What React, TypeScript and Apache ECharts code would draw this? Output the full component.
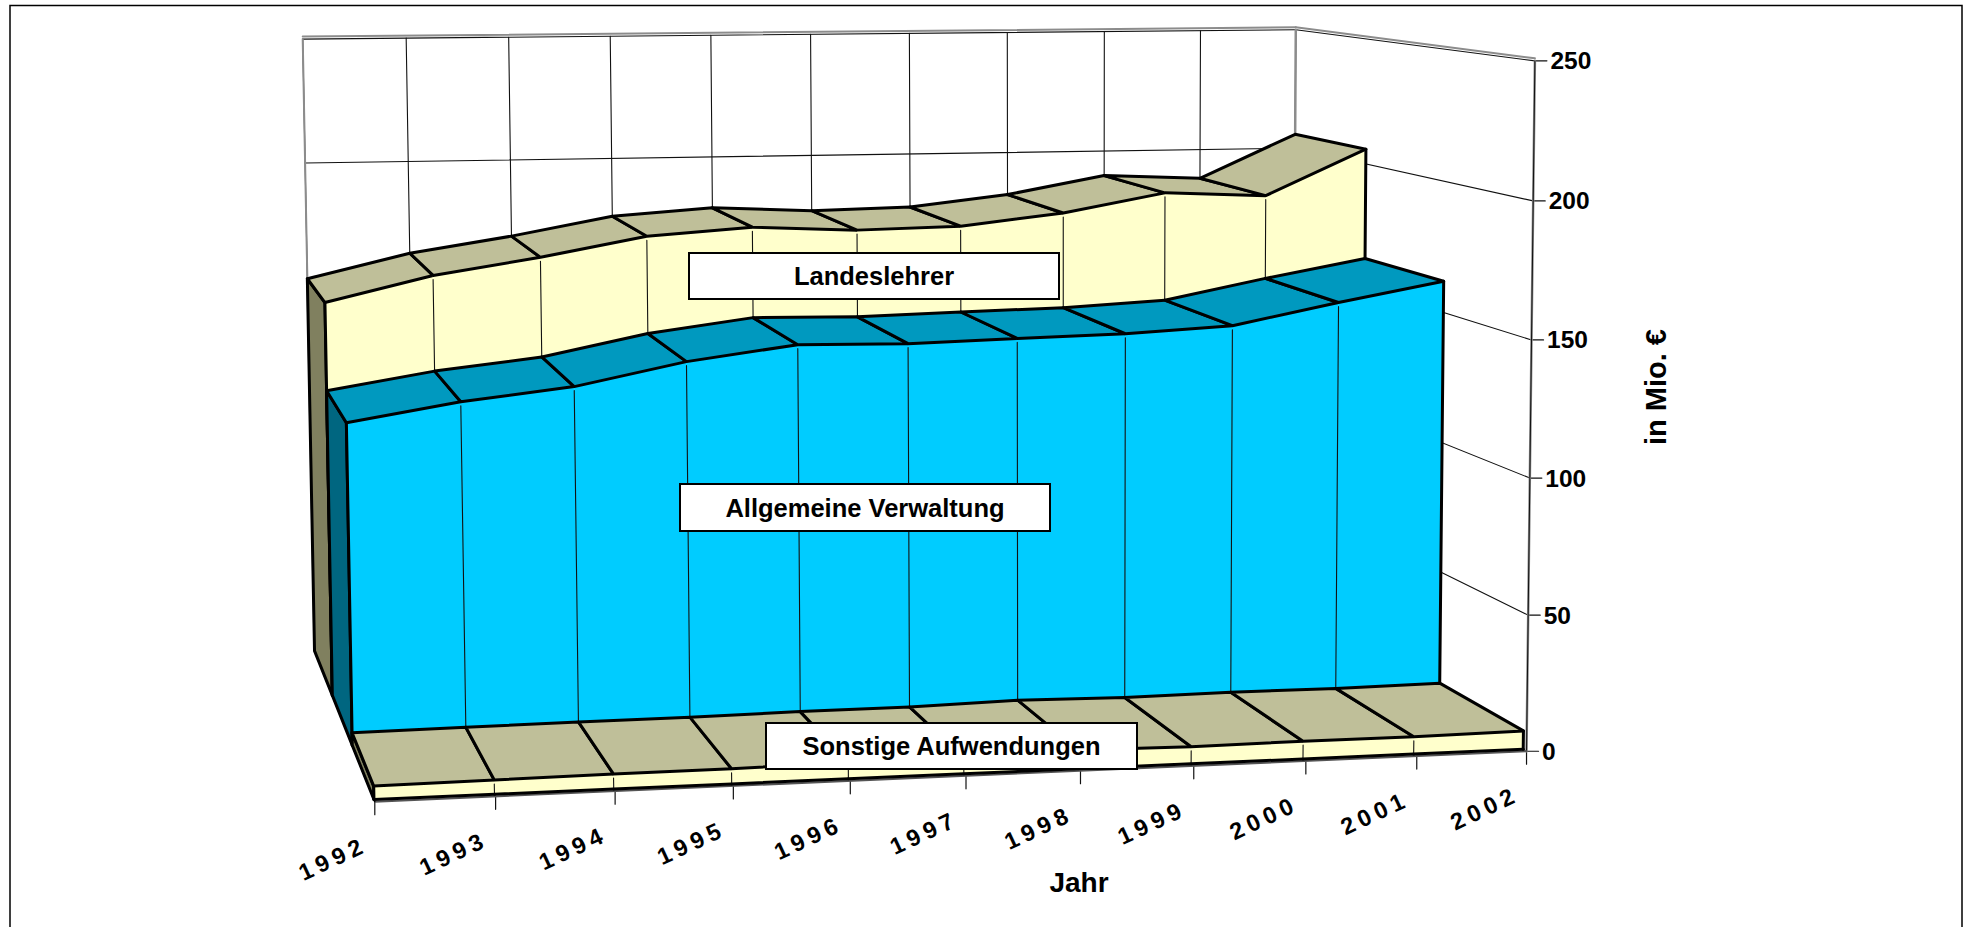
import React, { useEffect, useRef } from "react";
import * as echarts from "echarts";

const years = ["1992","1993","1994","1995","1996","1997","1998","1999","2000","2001","2002"];
const valueTicks = [0, 50, 100, 150, 200, 250];
const sonstige = [4.7, 5.0, 5.3, 5.4, 5.8, 5.9, 6.8, 6.2, 6.5, 6.4, 6.8];
const verwaltung = [118.9, 125.5, 130, 138.2, 143.5, 142.9, 143.9, 144.7, 146.8, 154.7, 161.9];
const landeslehrer = [153, 162.6, 168.8, 176.2, 179, 177.1, 177.9, 182.4, 189.7, 187.9, 205.9];
const VMAX = 250;

// Calibration of the perspective: box coordinates (u, v, d) -> picture pixels
const calib: number[][] = [
  [0, 0, 0, 375, 803], [1, 0, 0, 1524, 750], [1, 1, 0, 1538, 60], [0, 1, 1, 303, 38],
  [0, 0, 1, 313, 650], [1, 1, 1, 1293, 30], [1, 0, 1, 1296, 615],
  [0.5, 0, 0, 966, 775.7], [0.5, 1, 1, 809, 34], [1, 0.6, 0, 1532, 341], [1, 0.2, 0, 1527, 615],
  [1, 0.8, 1, 1295, 149], [0, 0.8, 1, 307, 164],
];

function solveProjection(pts: number[][]) {
  const rows: number[][] = [];
  const rhs: number[] = [];
  for (const [u, v, d, px, py] of pts) {
    const x = px / 1000, y = py / 1000;
    rows.push([u, v, d, 1, 0, 0, 0, 0, -x * u, -x * v, -x * d]); rhs.push(x);
    rows.push([0, 0, 0, 0, u, v, d, 1, -y * u, -y * v, -y * d]); rhs.push(y);
  }
  const n = 11;
  const M: number[][] = [];
  for (let i = 0; i < n; i++) {
    const r = new Array(n + 1).fill(0);
    for (let j = 0; j < n; j++) rows.forEach((row) => { r[j] += row[i] * row[j]; });
    rows.forEach((row, k) => { r[n] += row[i] * rhs[k]; });
    M.push(r);
  }
  for (let c = 0; c < n; c++) {
    let p = c;
    for (let r = c + 1; r < n; r++) if (Math.abs(M[r][c]) > Math.abs(M[p][c])) p = r;
    [M[c], M[p]] = [M[p], M[c]];
    for (let r = 0; r < n; r++) {
      if (r === c) continue;
      const f = M[r][c] / M[c][c];
      for (let j = c; j <= n; j++) M[r][j] -= f * M[c][j];
    }
  }
  return M.map((r, i) => r[n] / r[i]);
}
const P = solveProjection(calib);
function proj(u: number, v: number, d: number): number[] {
  const w = P[8] * u + P[9] * v + P[10] * d + 1;
  return [
    (1000 * (P[0] * u + P[1] * v + P[2] * d + P[3])) / w,
    (1000 * (P[4] * u + P[5] * v + P[6] * d + P[7])) / w,
  ];
}
const U = (i: number) => i / (years.length - 1);
const V = (val: number) => val / VMAX;

const line = (a: number[], b: number[], stroke: string, lineWidth: number) => ({
  type: "line",
  shape: { x1: a[0], y1: a[1], x2: b[0], y2: b[1] },
  style: { stroke, lineWidth, lineCap: "round" },
});
const poly = (points: number[][], fill: string, stroke: string | null, lineWidth = 3) => ({
  type: "polygon",
  shape: { points },
  style: stroke
    ? { fill, stroke, lineWidth, lineJoin: "round" }
    : { fill, stroke: fill, lineWidth: 0.6 },
});

const GREY = "#8c8c8c";
const THIN = "#111111";
const EDGE = "#000000";
const FONT = '"Liberation Sans", Arial, sans-serif';

function layer(name: string, values: number[], d1: number, d2: number, top: string, front: string, side: string, withBase: boolean) {
  return {
    type: "custom",
    name,
    coordinateSystem: "none",
    silent: true,
    clip: false,
    data: values.map((v, i) => [i, v]),
    renderItem: (_: any, api: any) => {
      const i = api.value(0);
      const val = api.value(1);
      const u = U(i), v = V(val);
      const children: any[] = [];
      const last = i === values.length - 1;
      if (i === 0) {
        children.push(poly([proj(u, v, d1), proj(u, v, d2), proj(u, 0, d2), proj(u, 0, d1)], side, EDGE));
      }
      if (!last) {
        const u2 = U(i + 1), v2 = V(values[i + 1]);
        children.push(poly([proj(u, v, d1), proj(u2, v2, d1), proj(u2, 0, d1), proj(u, 0, d1)], front, null));
      }
      const t = proj(u, v, d1);
      if (i > 0 && !last) children.push(line([t[0], t[1] + 4], proj(u, 0, d1), THIN, 1.1));
      if (i === 0 || last) children.push(line(t, proj(u, 0, d1), EDGE, 3));
      if (!last) {
        const u2 = U(i + 1), v2 = V(values[i + 1]);
        children.push(poly([proj(u, v, d1), proj(u2, v2, d1), proj(u2, v2, d2), proj(u, v, d2)], top, EDGE));
        if (withBase) children.push(line(proj(u, 0, d1), proj(u2, 0, d1), EDGE, 3));
      }
      return { type: "group", children };
    },
  };
}

const d0 = 0.012, d1 = 1 / 3, d2 = 2 / 3, d3 = 1;

const wallGrid = {
  type: "custom",
  name: "value grid",
  coordinateSystem: "none",
  silent: true,
  clip: false,
  data: valueTicks.map((t) => [t]),
  renderItem: (_: any, api: any) => {
    const v = V(api.value(0));
    const right = proj(1, v, 0);
    return {
      type: "group",
      children: [
        line(proj(0, v, 1), proj(1, v, 1), THIN, 1.1),
        line(proj(1, v, 1), right, THIN, 1.1),
        line(right, [right[0] + 12, right[1]], THIN, 1.2),
      ],
    };
  },
};
const yearGrid = {
  type: "custom",
  name: "year grid",
  coordinateSystem: "none",
  silent: true,
  clip: false,
  data: years.map((_, i) => [i]),
  renderItem: (_: any, api: any) => {
    const u = U(api.value(0));
    const f = proj(u, 0, 0);
    return {
      type: "group",
      children: [
        line(proj(u, 0, 1), proj(u, 1, 1), THIN, 1.1),
        line(f, [f[0], f[1] + 13], THIN, 1.2),
      ],
    };
  },
};
const wallEdges = {
  type: "custom",
  name: "wall edges",
  coordinateSystem: "none",
  silent: true,
  clip: false,
  data: [[0]],
  renderItem: () => {
    const up = (p: number[]) => [p[0], p[1] - 2.5];
    return {
      type: "group",
      children: [
        line(up(proj(0, 1, 1)), up(proj(1, 1, 1)), GREY, 2),
        line(up(proj(1, 1, 1)), up(proj(1, 1, 0)), GREY, 2),
        line(proj(0, 1, 1), proj(0, 0, 1), GREY, 2),
        line(proj(1, 1, 1), proj(1, 0, 1), GREY, 2.5),
        line(proj(1, 1, 0), proj(1, 0, 0), GREY, 2.5),
        line(proj(1, 1, 0), proj(1, 0, 0), THIN, 1),
      ],
    };
  },
};
const floorEdges = {
  type: "custom",
  name: "floor edges",
  coordinateSystem: "none",
  silent: true,
  clip: false,
  data: [[0]],
  renderItem: () => ({
    type: "group",
    children: [
      line(proj(0, 0, 0), proj(1, 0, 0), "#555555", 2),
      line(proj(0, 0, 0), proj(0, 0, 1), EDGE, 1.5),
    ],
  }),
};

const txt = (text: string, x: number, y: number, size: number, z: number, rotation = 0, align = "center") => ({
  type: "text",
  x,
  y,
  rotation,
  z,
  silent: true,
  style: {
    text,
    fill: "#000000",
    font: `bold ${size}px ${FONT}`,
    align,
    verticalAlign: "middle",
  },
});
const box = (x: number, y: number, w: number, h: number) => ({
  type: "rect",
  z: 100,
  silent: true,
  shape: { x, y, width: w, height: h },
  style: { fill: "#ffffff", stroke: "#000000", lineWidth: 2 },
});

function graphics() {
  const els: any[] = [];
  valueTicks.forEach((t) => {
    const p = proj(1, V(t), 0);
    els.push(txt(String(t), p[0] + 15.5, p[1], 24.5, 50, 0, "left"));
  });
  years.forEach((y, i) => {
    const p = proj(U(i), 0, 0);
    els.push(txt(y, p[0] - 42, p[1] + 57, 23.5, 50, (25 * Math.PI) / 180));
  });
  els.push(txt("Jahr", 1079, 882, 28, 50));
  els.push(txt("in Mio. €", 1656, 387, 29, 50, Math.PI / 2));
  els.push(box(689, 253, 370, 46), txt("Landeslehrer", 874, 276, 25.5, 101));
  els.push(box(680, 484, 370, 47), txt("Allgemeine Verwaltung", 865, 507.5, 25.5, 101));
  els.push(box(766, 723, 371, 46), txt("Sonstige Aufwendungen", 951.5, 746, 25.5, 101));
  els.push({
    type: "rect",
    z: 0,
    silent: true,
    shape: { x: 10, y: 5.5, width: 1952, height: 930 },
    style: { fill: "none", stroke: "#000000", lineWidth: 1.5 },
  });
  return els;
}

export default function App() {
  const ref = useRef<HTMLDivElement>(null);
  useEffect(() => {
    if (!ref.current) return;
    const chart = echarts.init(ref.current, undefined, { renderer: "svg" });
    chart.setOption({
      animation: false,
      backgroundColor: "#ffffff",
      graphic: graphics(),
      series: [
        wallGrid,
        yearGrid,
        wallEdges,
        floorEdges,
        layer("Landeslehrer", landeslehrer, d2, d3, "#BFBF99", "#FFFFCC", "#80805F", false),
        layer("Allgemeine Verwaltung", verwaltung, d1, d2, "#0099BF", "#00CCFF", "#006680", false),
        layer("Sonstige Aufwendungen", sonstige, d0, d1, "#BFBF99", "#FFFFCC", "#80805F", true),
      ],
    });
    ref.current.querySelectorAll("text").forEach((t) => {
      if (years.includes((t.textContent || "").trim())) t.setAttribute("letter-spacing", "5px");
    });
    return () => chart.dispose();
  }, []);
  return <div ref={ref} style={{ position: "fixed", left: 0, top: 0, width: 1968, height: 927 }} />;
}
